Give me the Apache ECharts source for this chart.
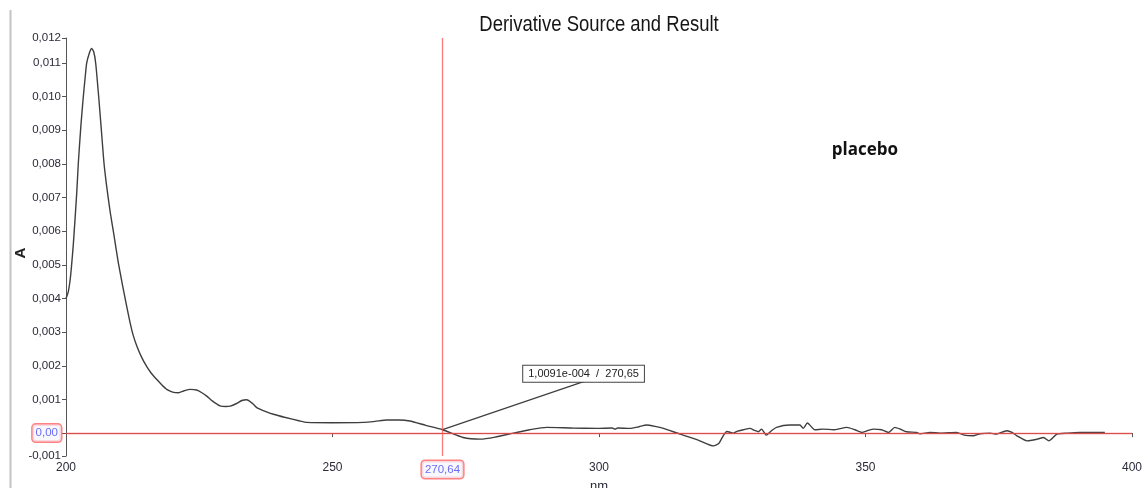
<!DOCTYPE html>
<html>
<head>
<meta charset="utf-8">
<script src="https://cdn.jsdelivr.net/npm/echarts@6/dist/echarts.min.js"></script>
<style>
  html, body { margin: 0; padding: 0; background: #fff; }
  #chart { width: 1145px; height: 488px; }
</style>
</head>
<body>
<div id="chart"></div>
<script>
// Wavelength (nm) and first-derivative absorbance of the placebo spectrum
const wavelength = [
  200.0, 200.4, 200.75, 201.0, 201.37, 202.0, 202.31, 202.8, 203.25, 203.6,
  203.88, 204.4, 204.81, 205.2, 205.57, 206.13, 206.63, 207.13, 207.7, 208.32,
  209.0, 209.82, 210.6, 211.38, 212.0, 212.6, 213.3, 214.2, 215.1, 216.0,
  217.0, 218.0, 218.9, 220.0, 221.1, 222.2, 223.3, 224.5, 225.5, 226.4,
  227.5, 228.9, 230.0, 230.8, 232.0, 233.0, 233.9, 235.0, 235.8, 237.5,
  238.9, 241.0, 243.9, 245.2, 250.0, 255.8, 258.0, 260.2, 262.5, 264.5,
  267.5, 270.65, 274.5, 277.7, 280.5, 283.9, 287.0, 290.2, 295.0, 299.6,
  302.5, 303.0, 303.5, 305.8, 307.5, 308.9, 310.5, 312.1, 315.2, 318.5,
  321.5, 322.5, 323.3, 324.0, 325.2, 326.0, 327.1, 328.3, 329.2, 329.9,
  330.5, 331.4, 332.2, 333.3, 335.8, 337.7, 338.3, 339.1, 340.5, 342.0,
  344.0, 346.5, 348.0, 349.3, 350.5, 351.5, 353.0, 354.3, 355.5, 356.5,
  357.7, 359.6, 360.2, 362.1, 364.0, 367.1, 368.5, 370.2, 371.5, 373.4,
  374.5, 376.5, 377.5, 378.4, 380.3, 382.2, 383.4, 384.4, 385.9, 387.8,
  390.2, 394.9
];
const absorbance = [
  0.00400, 0.00418, 0.00452, 0.00490, 0.00560, 0.00710, 0.00802, 0.00915, 0.01000, 0.01058,
  0.01099, 0.01130, 0.01143, 0.01133, 0.01099, 0.01000, 0.00901, 0.00802, 0.00725, 0.00654,
  0.00588, 0.00506, 0.00440, 0.00377, 0.00330, 0.00291, 0.00258, 0.00225, 0.00199, 0.00178,
  0.00160, 0.00143, 0.00130, 0.00122, 0.00120, 0.00126, 0.00130, 0.00128, 0.00120, 0.00110,
  0.00095, 0.00081, 0.00079, 0.00080, 0.00088, 0.00097, 0.00099, 0.00088, 0.00076, 0.00064,
  0.00056, 0.00047, 0.00036, 0.00032, 0.00031, 0.00032, 0.00035, 0.00039, 0.00039, 0.00036,
  0.00023, 0.00010091, -0.00013, -0.00018, -0.00012, 0.00000, 0.00010, 0.00017, 0.00015, 0.00014,
  0.00015, 0.00012, 0.00015, 0.00014, 0.00019, 0.00024, 0.00020, 0.00014, -0.00003, -0.00020,
  -0.00038, -0.00030, -0.00008, 0.00005, 0.00000, 0.00006, 0.00010, 0.00014, 0.00008, 0.00004,
  0.00012, -0.00006, 0.00005, 0.00017, 0.00024, 0.00024, 0.00014, 0.00030, 0.00010, 0.00012,
  0.00010, 0.00017, 0.00010, 0.00002, 0.00008, 0.00012, 0.00010, 0.00002, 0.00017, 0.00012,
  0.00004, 0.00002, -0.00002, 0.00002, 0.00000, 0.00002, -0.00006, -0.00008, -0.00002, 0.00000,
  -0.00003, 0.00007, 0.00002, -0.00008, -0.00023, -0.00018, -0.00013, -0.00023, -0.00003, 0.00000,
  0.00002, 0.00002
];

// Axis ranges and tick values
const xRange = [200, 400];
const xInterval = 50;
const yRange = [-0.00068, 0.01174];
const yLabelValues = [-0.00068, 0.001, 0.002, 0.003, 0.004, 0.005, 0.006, 0.007, 0.008, 0.009, 0.010, 0.011, 0.01174];
const yTickValues = [-0.00068, 0, 0.001, 0.002, 0.003, 0.004, 0.005, 0.006, 0.007, 0.008, 0.009, 0.010, 0.011, 0.01174];

// Cross-hair cursor and the probed point on the curve
const cursorX = 270.64;
const cursorY = 0;
const probe = [270.65, 0.00010091];

const SANS = '"Liberation Sans", Arial, sans-serif';
const LABEL_COLOR = '#2b2b3a';

function decimalComma(v, digits) {
  return v.toFixed(digits).replace('.', ',');
}
function sciComma(v) {
  const e = Math.floor(Math.log10(Math.abs(v)));
  const m = v / Math.pow(10, e);
  const sign = e < 0 ? '-' : '+';
  return m.toFixed(4).replace('.', ',') + 'e' + sign + String(Math.abs(e)).padStart(3, '0');
}

const chart = echarts.init(document.getElementById('chart'), null, { renderer: 'canvas' });

const cursorLabel = {
  show: true,
  position: 'start',
  distance: 5,
  color: '#3b3bf0',
  fontFamily: SANS,
  fontSize: 11.5,
  backgroundColor: '#f6f6ff',
  borderColor: '#ff5a5a',
  borderWidth: 1.5,
  borderRadius: 3,
  padding: [3, 3, 2, 3]
};

chart.setOption({
  animation: false,
  backgroundColor: '#ffffff',
  grid: {
    left: 66, right: 13, top: 38, bottom: 32,
    containLabel: false,
    outerBoundsMode: 'none'
  },
  xAxis: {
    type: 'value',
    min: xRange[0], max: xRange[1], interval: xInterval,
    name: 'nm',
    nameLocation: 'middle',
    nameGap: 24,
    nameMoveOverlap: false,
    nameTextStyle: { fontFamily: SANS, fontSize: 13, color: LABEL_COLOR },
    axisLine: { lineStyle: { color: '#555', width: 1 } },
    axisTick: { length: 4, lineStyle: { color: '#555' } },
    axisLabel: { margin: 6, fontFamily: SANS, fontSize: 12, color: LABEL_COLOR },
    splitLine: { show: false }
  },
  yAxis: {
    type: 'value',
    min: yRange[0], max: yRange[1],
    name: 'A',
    nameLocation: 'middle',
    nameGap: 38,
    nameMoveOverlap: false,
    nameTextStyle: { fontFamily: SANS, fontSize: 15, fontWeight: 'bold', color: '#222', padding: [0, 12, 0, 0] },
    axisLine: { show: true, lineStyle: { color: '#555', width: 1 } },
    axisTick: { show: true, length: 4, customValues: yTickValues, lineStyle: { color: '#555' } },
    axisLabel: {
      margin: 5,
      customValues: yLabelValues,
      showMinLabel: true,
      showMaxLabel: true,
      fontFamily: SANS, fontSize: 11.5, color: LABEL_COLOR,
      formatter: v => decimalComma(v, 3)
    },
    splitLine: { show: false }
  },
  series: [{
    type: 'line',
    data: wavelength.map((w, i) => [w, absorbance[i]]),
    showSymbol: false,
    smooth: 0.2,
    lineStyle: { color: '#3e3e3e', width: 1.4 },
    z: 2,
    markLine: {
      silent: true,
      symbol: 'none',
      animation: false,
      lineStyle: { color: '#ff4d4d', width: 1.3, type: 'solid', opacity: 0.75 },
      label: cursorLabel,
      data: [
        { xAxis: cursorX, label: { formatter: decimalComma(cursorX, 2) } },
        { yAxis: cursorY, label: { formatter: decimalComma(cursorY, 2) } }
      ]
    }
  }],
  graphic: [
    {
      id: 'frame',
      type: 'line',
      silent: true,
      shape: { x1: 10.5, y1: 10, x2: 10.5, y2: 488 },
      style: { stroke: '#c4c4c4', lineWidth: 2 }
    },
    {
      id: 'title',
      type: 'text',
      silent: true,
      x: 599, y: 25,
      scaleX: 0.84,
      style: {
        text: 'Derivative Source and Result',
        fontFamily: SANS,
        fontSize: 22,
        fill: '#151515',
        align: 'center',
        verticalAlign: 'middle'
      }
    },
    {
      id: 'tag',
      type: 'text',
      silent: true,
      x: 865, y: 150,
      style: {
        text: 'placebo',
        fontFamily: '"Open Sans", "Noto Sans", sans-serif',
        fontWeight: 'bold',
        fontSize: 17,
        fill: '#111',
        align: 'center',
        verticalAlign: 'middle'
      }
    }
  ]
});

// Probe read-out: leader line from the probed point to a boxed label
const p = chart.convertToPixel({ gridIndex: 0 }, probe);
const tip = [p[0] + 141, p[1] - 48];
chart.setOption({
  graphic: [
    {
      id: 'probeLeader',
      type: 'line',
      silent: true,
      shape: { x1: p[0], y1: p[1], x2: tip[0], y2: tip[1] },
      style: { stroke: '#3e3e3e', lineWidth: 1.3 }
    },
    {
      id: 'probeText',
      type: 'text',
      silent: true,
      x: tip[0], y: tip[1],
      style: {
        text: sciComma(probe[1]) + '  /  ' + decimalComma(probe[0], 2),
        fontFamily: SANS,
        fontSize: 11,
        fill: '#222',
        align: 'center',
        verticalAlign: 'bottom',
        backgroundColor: '#ffffff',
        borderColor: '#444',
        borderWidth: 1,
        padding: [3, 5, 2, 5]
      }
    }
  ]
});
</script>
</body>
</html>
